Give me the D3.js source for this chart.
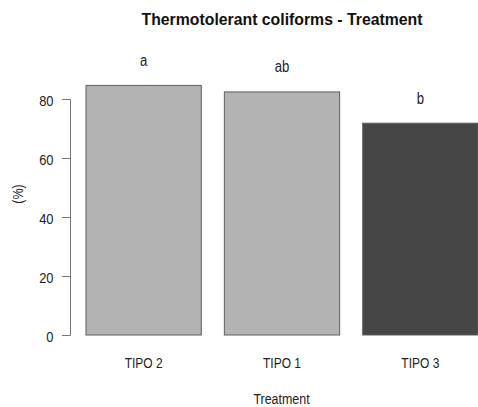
<!DOCTYPE html>
<html><head><meta charset="utf-8">
<script src="https://cdn.jsdelivr.net/npm/d3@7"></script>
<style>body{margin:0;background:#fff}svg{display:block}text{font-family:"Liberation Sans",Arial,sans-serif}</style>
</head><body>
<script>
const categories = ["TIPO 2", "TIPO 1", "TIPO 3"];
const values = [84.6, 82.4, 71.8];
const letters = ["a", "ab", "b"];
const fills = ["#b3b3b3", "#b3b3b3", "#464646"];
const yTicks = [0, 20, 40, 60, 80];

const W = 478, H = 407;
const SX = 0.82;
const svg = d3.select("body").append("svg").attr("width", W).attr("height", H);

const x = d3.scaleBand().domain(categories).range([86, 478]).paddingInner(1/6).paddingOuter(0);
const y = d3.scaleLinear().domain([0, 80]).range([335, 99]);

function label(sel, tx, ty, sx) {
  return sel.attr("transform", (d, i) => `translate(${tx(d, i)},${ty(d, i)}) scale(${sx},1)`);
}

// bars
svg.selectAll("rect.bar").data(categories).join("rect")
  .attr("x", d => x(d)).attr("width", x.bandwidth())
  .attr("y", (d, i) => y(values[i])).attr("height", (d, i) => y(0) - y(values[i]))
  .attr("fill", (d, i) => fills[i]).attr("stroke", "#5e5e5e").attr("stroke-width", 1);

// letters
label(svg.selectAll("text.let").data(categories).join("text"),
  d => x(d) + x.bandwidth() / 2, (d, i) => y(values[i]) - 19.5, SX)
  .attr("text-anchor", "middle").attr("font-size", 16).attr("fill", "#222")
  .text((d, i) => letters[i]);

// y axis
const yAxis = d3.axisLeft(y).tickValues(yTicks).tickSize(8).tickPadding(5);
const gy = svg.append("g").attr("transform", "translate(70,0)").call(yAxis);
gy.select(".domain").attr("stroke", "#777").attr("d", "M-8,99.5H0.5V335.5H-8");
gy.selectAll(".tick line").attr("stroke", "#777");
gy.selectAll(".tick text").remove();
label(gy.selectAll(".tick").append("text"), () => -16.5, () => 6.5, 0.86)
  .attr("text-anchor", "end").attr("font-size", 15).attr("fill", "#222")
  .attr("font-family", "Liberation Sans, Arial, sans-serif")
  .text(d => d);

// x labels
label(svg.selectAll("text.xl").data(categories).join("text"),
  d => x(d) + x.bandwidth() / 2, () => 368.3, 0.8)
  .attr("text-anchor", "middle").attr("font-size", 15).attr("fill", "#222").text(d => d);

// title
svg.append("text").attr("transform", "translate(282,25) scale(0.93,1)").attr("text-anchor", "middle")
  .attr("font-size", 17).attr("font-weight", "bold").attr("fill", "#111")
  .text("Thermotolerant coliforms - Treatment");

// axis titles
svg.append("text").attr("transform", "translate(281.5,404) scale(0.83,1)").attr("text-anchor", "middle")
  .attr("font-size", 15).attr("fill", "#222").text("Treatment");
svg.append("text").attr("transform", "translate(22.5,194) rotate(-90) scale(0.83,1)").attr("text-anchor", "middle")
  .attr("font-size", 15).attr("fill", "#222").text("(%)");
</script>
</body></html>
